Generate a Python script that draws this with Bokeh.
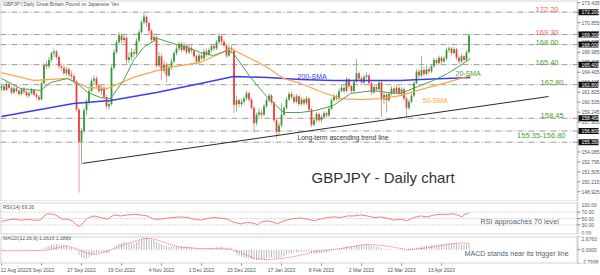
from bokeh.plotting import figure
from bokeh.models import (Range1d, FixedTicker, Label, ColumnDataSource,
                          LinearAxis, BoxAnnotation)
from bokeh.layouts import column
from bokeh.core.properties import value
from bokeh.embed import file_html
from bokeh.resources import INLINE

FONT = "Liberation Sans"

# ---------------- data ----------------
first_open = 162.3
closes = [162.6, 162.1, 162.9, 162.4, 161.8, 162.3, 162.0, 161.6, 162.2, 161.9,
          161.4, 161.7, 162.1, 161.5, 161.2, 160.9, 163.0, 165.4, 165.2, 166.0,
          166.9, 167.1, 166.4, 165.2, 165.0, 164.3, 164.8, 164.1, 163.9, 163.2,
          159.6, 155.4, 156.8, 159.5, 160.6, 162.0, 163.3, 163.6, 162.7, 162.0,
          162.4, 161.2, 160.0, 160.3, 165.0, 167.0, 168.3, 169.2, 168.6, 168.9,
          166.0, 166.4, 167.0, 166.8, 168.5, 169.6, 170.9, 171.6, 170.8, 169.8,
          168.6, 169.0, 165.3, 166.5, 164.6, 165.4, 164.0, 165.0, 165.8, 166.9,
          167.5, 168.1, 167.3, 167.9, 167.0, 167.6, 167.2, 166.5, 165.8, 166.6,
          166.2, 167.1, 166.7, 167.3, 167.8, 167.5, 168.3, 169.1, 168.4, 167.9,
          166.6, 167.6, 167.3, 160.2, 160.8, 160.3, 160.6, 161.0, 161.7, 160.9,
          159.8, 157.8, 158.9, 159.2, 158.9, 160.0, 160.8, 161.4, 160.5, 158.2,
          156.7, 157.5, 158.9, 159.8, 160.9, 161.6, 161.2, 160.6, 161.3, 160.3,
          160.9, 160.4, 161.0, 159.6, 157.6, 158.2, 159.0, 158.2, 158.6, 159.1,
          158.8, 159.7, 160.8, 161.3, 161.0, 162.0, 162.4, 162.0, 163.5, 162.6,
          162.0, 163.2, 164.3, 163.6, 163.1, 163.8, 164.0, 163.0, 161.8, 162.5,
          162.2, 163.1, 160.9, 161.5, 160.8, 161.6, 162.3, 161.8, 162.4, 161.7,
          162.2, 161.0, 159.8, 160.6, 161.4, 163.0, 164.5, 164.0, 164.7, 164.2,
          164.8, 164.5, 165.2, 166.0, 165.6, 166.3, 165.8, 166.2, 167.3, 167.5,
          166.9, 167.4, 166.3, 165.8, 166.5, 166.0, 167.0, 169.2]
highs = [162.9, 162.8, 163.2, 163.1, 162.6, 162.6, 162.7, 162.2, 162.4, 162.5,
         162.1, 162.0, 162.4, 162.3, 161.8, 161.5, 163.2, 165.6, 165.9, 166.4,
         167.1, 167.5, 167.3, 166.6, 165.6, 165.3, 165.1, 165.0, 164.6, 164.3,
         163.4, 159.8, 157.2, 159.8, 161.0, 162.3, 163.6, 164.0, 163.9, 162.9,
         162.8, 162.6, 161.5, 160.8, 165.3, 167.4, 168.6, 169.6, 169.5, 169.4,
         169.1, 167.0, 167.5, 167.4, 168.8, 170.0, 171.2, 172.2, 171.8, 171.0,
         170.0, 169.5, 169.2, 167.0, 166.8, 165.9, 165.7, 165.4, 166.2, 167.2,
         167.9, 168.4, 168.3, 168.3, 168.1, 168.0, 167.9, 167.4, 166.7, 166.9,
         167.0, 167.4, 167.5, 167.6, 168.1, 168.0, 168.6, 169.5, 169.3, 168.7,
         168.1, 167.9, 167.9, 167.5, 161.4, 161.0, 161.0, 161.3, 162.0, 161.9,
         161.1, 160.0, 159.2, 159.7, 159.6, 160.3, 161.1, 161.7, 161.6, 160.7,
         158.4, 157.9, 160.4, 160.1, 161.2, 161.9, 161.9, 161.5, 161.6, 161.5,
         161.2, 161.1, 161.3, 161.2, 159.8, 158.6, 159.3, 159.2, 158.9, 159.4,
         159.3, 160.0, 161.1, 161.6, 161.6, 162.3, 162.8, 162.7, 163.8, 163.7,
         162.8, 163.5, 166.1, 164.5, 163.9, 164.1, 164.4, 164.2, 163.2, 162.8,
         162.7, 163.4, 163.3, 161.8, 161.7, 161.9, 162.6, 162.5, 162.7, 162.6,
         162.5, 162.4, 161.2, 160.9, 161.7, 163.3, 164.8, 164.9, 166.5, 165.1,
         165.3, 165.2, 165.5, 166.3, 166.2, 166.6, 166.5, 166.5, 167.6, 167.8,
         167.7, 167.7, 167.6, 166.6, 166.8, 166.7, 167.3, 169.4]
lows = [162.0, 161.9, 162.0, 162.2, 161.5, 161.6, 161.8, 161.3, 161.4, 161.6,
        161.2, 161.1, 161.5, 161.3, 160.9, 160.7, 160.8, 162.9, 164.8, 164.9,
        165.7, 166.4, 166.1, 164.9, 164.6, 164.0, 164.0, 163.8, 163.5, 162.9,
        159.3, 148.8, 152.6, 156.5, 158.9, 160.2, 161.8, 162.8, 162.4, 161.7,
        161.5, 160.9, 159.7, 159.6, 160.1, 164.7, 166.8, 168.0, 168.1, 168.2,
        165.5, 165.6, 166.0, 166.3, 166.6, 168.2, 169.4, 170.6, 170.3, 169.4,
        168.2, 168.3, 165.0, 165.0, 163.4, 164.3, 163.1, 163.8, 164.7, 165.6,
        166.6, 167.2, 167.0, 167.1, 166.7, 166.8, 166.9, 166.2, 165.5, 165.6,
        165.9, 166.0, 166.4, 166.5, 167.0, 167.2, 167.3, 168.1, 168.1, 167.6,
        166.3, 166.4, 166.9, 159.1, 159.3, 159.9, 160.0, 160.2, 160.8, 160.6,
        159.5, 156.6, 157.5, 158.6, 158.5, 158.7, 159.8, 160.5, 160.2, 157.9,
        155.8, 156.3, 157.3, 158.7, 159.6, 160.7, 160.9, 160.3, 160.4, 160.0,
        160.1, 160.1, 160.2, 159.3, 157.3, 157.4, 158.0, 157.9, 157.9, 158.4,
        158.5, 158.6, 159.5, 160.6, 160.7, 160.8, 161.8, 161.7, 161.8, 162.3,
        161.7, 161.8, 163.0, 163.3, 162.8, 162.9, 163.5, 162.7, 161.5, 161.6,
        161.9, 162.0, 158.6, 160.3, 159.2, 160.6, 161.4, 161.5, 161.6, 161.4,
        161.4, 160.7, 158.4, 159.5, 160.4, 161.2, 162.9, 163.7, 163.8, 163.9,
        164.0, 164.2, 164.3, 165.0, 165.3, 165.4, 165.5, 165.6, 166.0, 167.0,
        166.6, 166.7, 166.0, 165.5, 165.6, 165.7, 165.8, 166.9]

sma20_x = [0, 7.6, 15.6, 19.6, 26.4, 30.4, 34.4, 39.6, 43.6, 48.8, 52.8, 56.8, 62.4, 68.8,
           74.4, 79.6, 84.8, 90.4, 92.8, 99.6, 106.4, 112.8, 119.6, 125.6, 132.8, 139.6,
           148.8, 154.4, 159.6, 167.6, 172.8, 178.4, 183.6, 187.6]
sma20_y = [163.61, 162.31, 162.05, 163.09, 163.61, 162.96, 161.79, 161.14, 161.01, 163.35,
           165.94, 167.62, 168.79, 168.14, 167.62, 166.98, 166.59, 167.24, 166.85, 163.74,
           161.14, 159.20, 159.20, 159.46, 160.11, 161.66, 162.05, 161.79, 161.66, 162.70,
           163.35, 164.25, 165.29, 166.20]
sma50_x = [0, 12.8, 26.4, 34.4, 42.4, 52.8, 66.4, 79.6, 91.6, 99.6, 106.4, 112.8, 119.6,
           127.6, 135.6, 143.6, 151.6, 159.6, 167.6, 176.8, 187.6]
sma50_y = [164.38, 163.35, 163.61, 162.44, 162.31, 163.74, 165.03, 165.68, 167.49, 166.20,
           165.03, 163.61, 162.96, 161.92, 161.01, 160.88, 161.01, 161.40, 162.18, 162.96,
           163.99]
sma200_x = [0, 28.8, 43.6, 62.0, 79.6, 92.8, 106.4, 119.6, 132.8, 159.6, 167.6, 187.6]
sma200_y = [158.68, 160.37, 160.75, 161.79, 162.96, 163.87, 163.74, 163.48, 163.35, 163.35,
            163.48, 163.74]

rsi_x = [0, 2.3, 5, 7.6, 10.3, 13, 15.6, 17, 18.3, 21, 22.3, 24.3, 26.3, 28.3, 29.6, 31,
         32.3, 33.6, 35, 37, 39.6, 42.3, 45, 47.6, 50.3, 53, 55.6, 58.3, 61, 63.6, 66.3, 69,
         71.6, 74.3, 77, 79.6, 82.3, 85, 87.6, 90.3, 93, 95.6, 98.3, 101, 102.3, 103.6,
         106.3, 109, 110.3, 113, 115.6, 119.6, 122.3, 125, 127.6, 130.3, 133, 135.6, 138.3,
         141, 143.6, 146.3, 149, 151.6, 154.3, 157, 159.6, 162.3, 165, 167.6, 170.3, 173,
         175.6, 178.3, 181, 182.3, 184.3, 185, 186.3, 187]
rsi_y = [41, 45, 48, 45, 47, 45, 45, 58, 65, 63, 58, 48, 48, 43, 33, 25, 33, 45, 53, 58,
         53, 48, 61, 58, 61, 63, 61, 58, 48, 48, 51, 53, 55, 53, 48, 45, 50, 53, 51, 48,
         38, 33, 38, 35, 30, 38, 43, 38, 33, 43, 48, 52, 48, 43, 48, 53, 55, 53, 58, 58,
         61, 58, 53, 55, 51, 45, 48, 43, 53, 58, 55, 61, 63, 63, 65, 61, 55, 63, 65, 69]

macd_main = [-0.1, -0.1, 0.0, 0.0, -0.1, -0.1, -0.1, -0.2, -0.1, -0.1,
             -0.2, -0.2, -0.1, -0.2, -0.2, -0.3, 0.1, 0.4, 0.6, 0.8,
             1.0, 1.1, 1.2, 1.1, 1.0, 0.9, 0.8, 0.6, 0.5, 0.3,
             -0.2, -1.0, -1.5, -1.8, -1.8, -1.6, -1.3, -1.0, -0.8, -0.7,
             -0.6, -0.6, -0.7, -0.6, 0.0, 0.4, 0.8, 1.2, 1.4, 1.6,
             1.4, 1.3, 1.3, 1.3, 1.5, 1.8, 2.1, 2.4, 2.4, 2.3,
             2.1, 2.0, 1.6, 1.4, 1.1, 0.9, 0.7, 0.6, 0.6, 0.6,
             0.7, 0.7, 0.7, 0.7, 0.6, 0.6, 0.5, 0.4, 0.3, 0.3,
             0.3, 0.3, 0.3, 0.4, 0.4, 0.4, 0.5, 0.6, 0.6, 0.5,
             0.4, 0.4, 0.3, -0.4, -0.9, -1.2, -1.4, -1.6, -1.7, -1.8,
             -1.9, -2.1, -2.1, -2.1, -2.0, -1.9, -1.7, -1.5, -1.5, -1.6,
             -1.8, -1.8, -1.5, -1.3, -1.0, -0.8, -0.7, -0.6, -0.5, -0.5,
             -0.4, -0.4, -0.3, -0.4, -0.7, -0.8, -0.8, -0.8, -0.7, -0.6,
             -0.5, -0.4, -0.2, 0.0, 0.1, 0.3, 0.4, 0.5, 0.7, 0.7,
             0.7, 0.8, 1.0, 1.0, 1.0, 1.1, 1.1, 1.0, 0.8, 0.7,
             0.6, 0.6, 0.3, 0.2, 0.1, 0.1, 0.1, 0.1, 0.1, 0.1,
             0.1, 0.0, -0.2, -0.2, -0.1, 0.1, 0.4, 0.5, 0.7, 0.7,
             0.8, 0.8, 0.9, 1.0, 1.0, 1.1, 1.1, 1.1, 1.2, 1.3,
             1.3, 1.3, 1.2, 1.1, 1.1, 1.1, 1.1, 1.26]
signal_x = [0, 17, 21, 26, 30, 34, 38, 42, 47.6, 53, 57, 60, 64, 69, 72, 80, 88, 92, 96,
            101, 106, 113, 120, 125, 130, 135.6, 141, 146, 151.6, 157, 162, 167.6, 173,
            178.4, 183.6, 187]
signal_y = [-0.2, -0.2, 0.21, 0.8, 0.21, -0.67, -0.97, -0.38, 0.8, 1.68, 2.27, 2.27, 1.68,
            0.8, 0.5, 0.21, 0.21, 0.03, -0.67, -1.73, -2.03, -1.73, -1.1, -0.38, -0.09,
            0.21, 0.68, 1.09, 0.9, 0.5, 0.03, 0.21, 0.62, 1.09, 1.39, 1.29]

level_values = [172.20, 169.30, 168.00, 165.40, 162.80, 158.45, 156.80, 155.35]
price_ticks = [148.925, 150.215, 151.505, 152.795, 154.085, 155.375, 156.665, 157.955,
               159.245, 160.535, 161.825, 163.115, 164.405, 165.695, 166.985, 168.275,
               169.565, 170.855, 172.145, 173.435]
rsi_ticks = [30, 50, 70]
macd_ticks = [2.6763, 0.0, -2.7998]
trend_x = [32.4, 218.8]
trend_y = [152.6, 161.27]
date_labels = ["12 Aug 2022", "5 Sep 2022", "27 Sep 2022", "19 Oct 2022", "4 Nov 2022",
               "1 Dec 2022", "23 Dec 2022", "17 Jan 2023", "8 Feb 2023", "2 Mar 2023",
               "22 Mar 2023", "13 Apr 2023"]
date_bars = [0, 16, 32, 48, 64, 80, 96, 112, 128, 144, 160, 176]

# ---------------- styling ----------------
GREEN, RED = "#349834", "#f03a3a"
GREEN_W, RED_W = "#86c486", "#f49a9a"
FRAME = "#6e6e6e"
AX_TXT = "#555555"
X_START = -0.4
X_END = 230.4          # right edge of the chart area (price scale lies beyond it)
TICK_X1 = 231.6
LBL_X = 232.0
BOX_CX = 234.8

XR = Range1d(X_START, 239.6)


def base(height, yr, top, bottom):
    f = figure(width=600, height=height, x_range=XR, y_range=yr,
               output_backend="svg", toolbar_location=None,
               x_axis_location=None, y_axis_location=None,
               min_border_left=0, min_border_right=0,
               min_border_top=top, min_border_bottom=bottom)
    f.grid.visible = False
    f.outline_line_color = None
    f.background_fill_color = "white"
    f.border_fill_color = "white"
    f.add_layout(BoxAnnotation(left=X_START, right=X_END, fill_alpha=0,
                               line_color=FRAME, line_width=2))
    return f


def hlines(f, ys, color, dash):
    k = len(ys)
    f.segment(x0=[X_START] * k, y0=ys, x1=[X_END] * k, y1=ys,
              line_color=color, line_dash=dash, line_width=1)


def scale(f, ticks, labels):
    """price scale on the right of the chart area"""
    k = len(ticks)
    f.segment(x0=[X_END] * k, y0=ticks, x1=[TICK_X1] * k, y1=ticks,
              line_color="#8a8a8a", line_width=1)
    f.text(x=[LBL_X] * k, y=ticks, text=labels, text_font=value(FONT),
           text_font_size=value("5px"), text_color=AX_TXT,
           text_baseline="middle", text_align="left")


def lab(f, x, y, text, size, color, align="left", baseline="middle"):
    f.add_layout(Label(x=x, y=y, text=text, text_font=FONT, text_font_size=size,
                       text_color=color, text_align=align, text_baseline=baseline))


# ---------------- main price panel ----------------
p = base(201, Range1d(147.663, 173.717), 0, 0)
hlines(p, level_values, "#9a9a9a", "6 2 1 2")

n = len(closes)
opens = [first_open] + closes[:-1]
ups = [c >= o for o, c in zip(opens, closes)]
src = ColumnDataSource(dict(
    x=list(range(n)), h=highs, l=lows,
    top=[max(o, c) for o, c in zip(opens, closes)],
    bot=[min(o, c) for o, c in zip(opens, closes)],
    body=[GREEN if u else RED for u in ups],
    wick=[GREEN_W if u else RED_W for u in ups]))
p.segment(x0="x", y0="l", x1="x", y1="h", line_color="wick", line_width=1, source=src)
p.vbar(x="x", width=0.7, top="top", bottom="bot", fill_color="body",
       line_color=None, source=src)

p.line(sma200_x, sma200_y, line_color="#3c3cf2", line_width=1.5)
p.line(sma50_x, sma50_y, line_color="#ffa64d", line_width=1.3)
p.line(sma20_x, sma20_y, line_color="#4ea24e", line_width=1)
p.line(trend_x, trend_y, line_color="#2a2a2a", line_width=1)

scale(p, price_ticks, [f"{v:.3f}" for v in price_ticks])
p.rect(x=[BOX_CX] * len(level_values), y=level_values, width=20, height=6,
       width_units="screen", height_units="screen", fill_color="#111111",
       line_color=None)
p.text(x=[LBL_X] * len(level_values), y=level_values,
       text=[f"{v:.3f}" for v in level_values], text_font=value(FONT),
       text_font_size=value("5px"), text_color="white",
       text_baseline="middle", text_align="left")

level_txt = [("172.20", 172.20, 222.8, "#ff5a5a"), ("169.30", 169.30, 222.8, "#ff5a5a"),
             ("168.00", 168.00, 222.8, "#4aa02c"), ("165.40", 165.40, 222.8, "#4aa02c"),
             ("162.80", 162.80, 224.8, "#4aa02c"), ("158.45", 158.45, 224.8, "#4aa02c")]
for t, y, x, c in level_txt:
    lab(p, x, y, t, "7.5px", c, align="right", baseline="bottom")
lab(p, 225.6, 156.2, "155.35-156.80", "7.5px", "#4aa02c", align="right")

lab(p, 118.4, 163.93, "200-SMA", "7px", "#3c3cf2")
lab(p, 181.6, 164.19, "20-SMA", "7px", "#4a9e3a")
lab(p, 168.4, 160.75, "50-SMA", "7px", "#ffa640")
lab(p, 118.4, 155.9, "Long-term ascending trend line", "6.6px", "#333333")
lab(p, 124.0, 150.71, "GBPJPY - Daily chart", "15px", "#333333", baseline="alphabetic")
lab(p, 0.6, 173.2, "GBPJPY,Daily   Great Britain Pound vs Japanese Yen", "5px", "#555555")

# ---------------- RSI panel ----------------
r = base(34, Range1d(0, 100), 1, 1)
hlines(r, rsi_ticks, "#b4b4b4", "1 2")
r.line(rsi_x, rsi_y, line_color="#ff7a7a", line_width=1)
scale(r, rsi_ticks, [f"{v:.2f}" for v in rsi_ticks])
lab(r, LBL_X, 100, "100.00", "5px", AX_TXT, baseline="top")
lab(r, LBL_X, 0, "0.00", "5px", AX_TXT, baseline="bottom")
lab(r, 0.6, 87.5, "RSI(14) 69.26", "5px", "#555555")
lab(r, 191.6, 40.6, "RSI approaches 70 level", "7.2px", "#4f6475")

# ---------------- MACD panel ----------------
m = base(40, Range1d(-2.7998, 2.6763), 1, 8)
xa = LinearAxis(ticker=FixedTicker(ticks=date_bars),
                major_label_overrides={b: t for b, t in zip(date_bars, date_labels)})
xa.axis_line_color = None
xa.major_tick_out = 2
xa.major_tick_in = 0
xa.minor_tick_out = 0
xa.minor_tick_in = 0
xa.major_tick_line_color = "#888888"
xa.major_label_standoff = 1
xa.major_label_text_font_size = "5px"
xa.major_label_text_font = FONT
xa.major_label_text_color = AX_TXT
xa.major_label_text_align = "left"
m.add_layout(xa, "below")

msrc = ColumnDataSource(dict(x=list(range(len(macd_main))), v=macd_main,
                             z=[0.0] * len(macd_main)))
m.segment(x0="x", y0="z", x1="x", y1="v", line_color="#bdbdbd", line_width=1, source=msrc)
m.line(signal_x, signal_y, line_color="#ff6060", line_width=1, line_dash="1 1")
m.segment(x0=[X_END] * 3, y0=macd_ticks, x1=[TICK_X1] * 3, y1=macd_ticks,
          line_color="#8a8a8a", line_width=1)
lab(m, LBL_X, 2.6763, "2.6763", "5px", AX_TXT, baseline="top")
lab(m, LBL_X, 0.0, "0.0000", "5px", AX_TXT)
lab(m, LBL_X, -2.7998, "-2.7998", "5px", AX_TXT, baseline="bottom")
lab(m, 0.6, 2.3, "MACD(12,26,9) 1.2616 1.2889", "5px", "#555555")
lab(m, 185.2, -0.85, "MACD stands near its trigger line", "7.1px", "#4f6475")

layout = column(p, r, m, spacing=0)
open("out.html", "w").write(file_html(layout, INLINE))
